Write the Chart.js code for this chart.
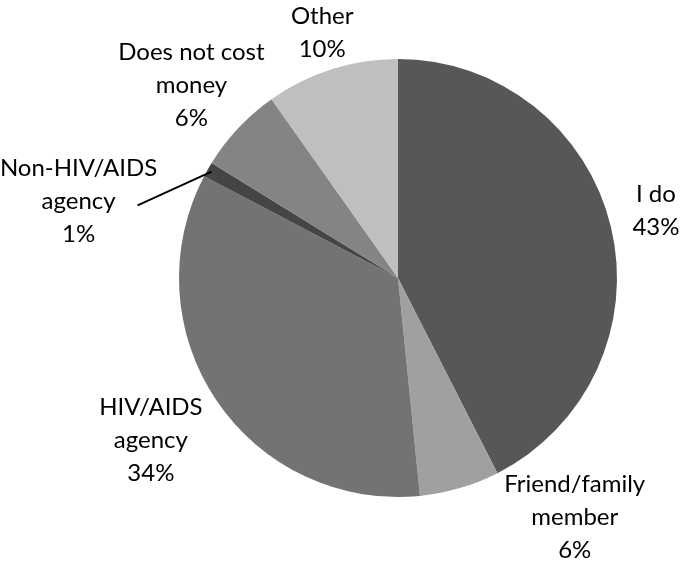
<!DOCTYPE html>
<html>
<head>
<meta charset="utf-8">
<script src="https://cdn.jsdelivr.net/npm/chart.js@4"></script>
<style>
  html, body { margin: 0; padding: 0; background: #fff; }
  #wrap { width: 681px; height: 563px; position: relative; }
</style>
</head>
<body>
<div id="wrap"><canvas id="pie"></canvas></div>
<script>
/* ── Data ───────────────────────────────────────────────────── */
const categories = [
  ['I do'],
  ['Friend/family', 'member'],
  ['HIV/AIDS', 'agency'],
  ['Non-HIV/AIDS', 'agency'],
  ['Does not cost', 'money'],
  ['Other']
];
const shares = [42.5, 5.9, 34.3, 1.1, 6.4, 9.8];
const sliceColors = ['#575757', '#a0a0a0', '#737373', '#454545', '#848484', '#bfbfbf'];

/* ── Label layout: angle (deg, clockwise from top) and distance (× radius) ── */
const labelAngle = [75.4, 143.6, 236.7, 283.5, 313.0, 342.8];
const labelDist  = [1.217, 1.36, 1.35, 1.50, 1.29, 1.17];
const leaderLine = [false, false, false, true, false, false];

const FONT = '24px Lato';
const LINE_H = 33;

/* ── Label plugin ───────────────────────────────────────────── */
const pieLabels = {
  id: 'pieLabels',
  afterDatasetsDraw(chart) {
    const ctx = chart.ctx;
    const arcs = chart.getDatasetMeta(0).data;
    const total = shares.reduce((a, b) => a + b, 0);
    ctx.save();
    ctx.font = FONT;
    ctx.fillStyle = '#000';
    ctx.textAlign = 'center';
    ctx.textBaseline = 'middle';
    arcs.forEach((arc, i) => {
      const { x, y, outerRadius, startAngle, endAngle } = arc.getProps(['x', 'y', 'outerRadius', 'startAngle', 'endAngle'], true);
      const a = (labelAngle[i] - 90) * Math.PI / 180;
      const lx = x + Math.cos(a) * outerRadius * labelDist[i];
      const ly = y + Math.sin(a) * outerRadius * labelDist[i];
      const lines = categories[i].concat([Math.round(shares[i] / total * 100) + '%']);
      const top = ly - (lines.length - 1) * LINE_H / 2;
      lines.forEach((t, k) => ctx.fillText(t, lx, top + k * LINE_H));

      if (leaderLine[i]) {
        const mid = (startAngle + endAngle) / 2;
        ctx.beginPath();
        ctx.strokeStyle = '#000';
        ctx.lineWidth = 2;
        ctx.moveTo(lx + 59, ly + 4);
        ctx.lineTo(x + Math.cos(mid) * outerRadius * 0.98, y + Math.sin(mid) * outerRadius * 0.98);
        ctx.stroke();
      }
    });
    ctx.restore();
  }
};

/* ── Chart ──────────────────────────────────────────────────── */
new Chart(document.getElementById('pie'), {
  type: 'pie',
  data: {
    labels: categories.map(c => c.join(' ')),
    datasets: [{
      data: shares,
      backgroundColor: sliceColors,
      borderWidth: 0
    }]
  },
  options: {
    responsive: true,
    maintainAspectRatio: false,
    animation: false,
    layout: { padding: { left: 179, right: 64, top: 59, bottom: 66 } },
    plugins: {
      legend: { display: false },
      tooltip: { enabled: false }
    }
  },
  plugins: [pieLabels]
});
</script>
</body>
</html>
